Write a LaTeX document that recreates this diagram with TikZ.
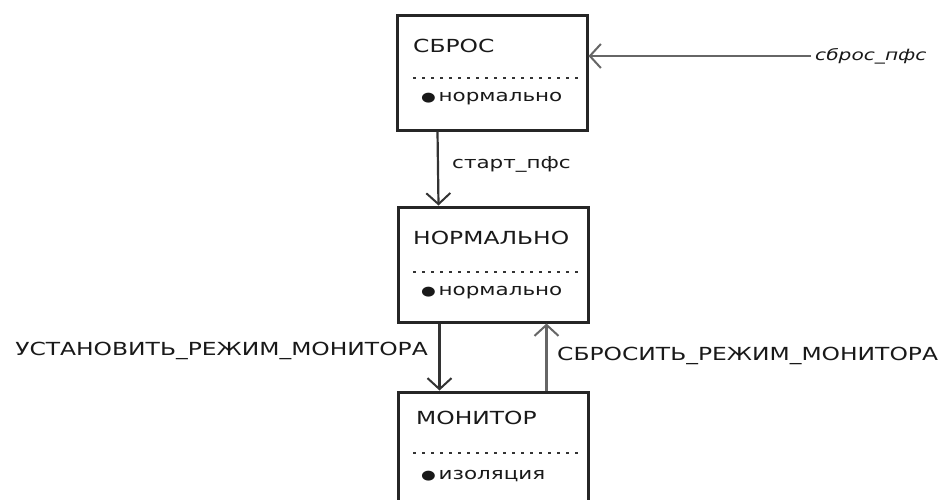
\documentclass[tikz,border=0pt]{standalone}
\usepackage{fontspec}
\setmainfont{DejaVu Sans}[FakeStretch=1.3]
\usetikzlibrary{arrows.meta}
\begin{document}
\begin{tikzpicture}[x=1pt,y=-1pt,
  box/.style={draw=black!85,line width=3pt,rectangle,inner sep=0pt},
  txt/.style={inner sep=0pt,anchor=west,font=\fontsize{18}{18}\selectfont,text=black!90},
  small/.style={inner sep=0pt,font=\fontsize{16.5}{16.5}\selectfont,text=black!90},
  lbl/.style={inner sep=0pt,font=\fontsize{18}{18}\selectfont,text=black!90},
  sep/.style={line width=2.5pt,dash pattern=on 3pt off 6pt,draw=black!80},
  arr/.style={line width=2.2pt,draw=black!80,-{Straight Barb[length=11pt,width=24pt,line width=2pt]}}]
\useasboundingbox (0,0) rectangle (939,499);
\clip (0,0) rectangle (939,499);
% boxes
\node[box,minimum width=190pt,minimum height=115pt] (sbros) at (492,72.5) {};
\node[box,minimum width=190pt,minimum height=115pt] (norm) at (493,264.5) {};
\node[box,minimum width=190pt,minimum height=120pt] (mon) at (493,452) {};
% box contents
\node[txt] (t1) at (413,46) {СБРОС};
\draw[sep] (413,78) -- (578,78);
\node[small,anchor=west] (b1) at (421,99) {{\fontsize{13}{13}\selectfont ●}\,нормально};
\node[txt] (t2) at (413,238) {НОРМАЛЬНО};
\draw[sep] (413,272) -- (580,272);
\node[small,anchor=west] (b2) at (421,293) {{\fontsize{13}{13}\selectfont ●}\,нормально};
\node[txt] (t3) at (416,418) {МОНИТОР};
\draw[sep] (413,453) -- (580,453);
\node[small,anchor=west] (b3) at (421,476) {{\fontsize{13}{13}\selectfont ●}\,изоляция};
% labels
\node[small,anchor=west,font=\fontsize{15.5}{15.5}\selectfont] (l1) at (815,56) {\textit{сброс\_пфс}};
\node[small,anchor=west] (l2) at (452,164) {старт\_пфс};
\node[lbl,anchor=east] (l3) at (428,351) {УСТАНОВИТЬ\_РЕЖИМ\_МОНИТОРА};
\node[lbl,anchor=west] (l4) at (557,356) {СБРОСИТЬ\_РЕЖИМ\_МОНИТОРА};
% connectors
\draw[arr,draw=black!60] ([xshift=-4pt]l1.west) -- (sbros.east |- l1.west);
\draw[arr] ([xshift=42pt]sbros.south west) -- ([xshift=42pt]norm.north west);
\draw[arr] ([xshift=43pt]norm.south west) -- ([xshift=43pt]mon.north west);
\draw[arr,draw=black!60] ([xshift=150pt]mon.north west) -- ([xshift=150pt]norm.south west);
\end{tikzpicture}
\end{document}
